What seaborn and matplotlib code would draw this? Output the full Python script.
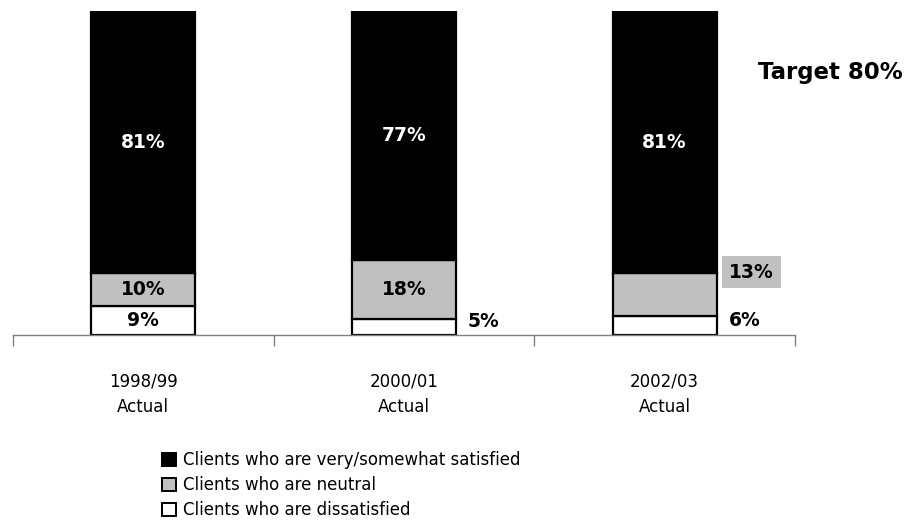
import numpy as np
import pandas as pd
import matplotlib
matplotlib.use("Agg")
import matplotlib.pyplot as plt
from matplotlib.patches import Patch
import seaborn as sns

# Client satisfaction survey results (percent of clients)
categories = ["1998/99\nActual", "2000/01\nActual", "2002/03\nActual"]
dissatisfied = [9, 5, 6]
neutral = [10, 18, 13]
satisfied = [81, 77, 81]
legend_labels = [
    "Clients who are very/somewhat satisfied",
    "Clients who are neutral",
    "Clients who are dissatisfied",
]
target_text = "Target 80%"

sns.set_theme(style="white")
plt.rcParams["font.family"] = ["DejaVu Sans"]
plt.rcParams["text.color"] = "black"
plt.rcParams["xtick.labelcolor"] = "black"

GRAY = "#c0c0c0"
AXIS_GRAY = "#808080"
EDGE_LW = 1.6
BAR_W = 0.4

fig = plt.figure(figsize=(9.12, 5.25), dpi=100)
ax = fig.add_axes([13 / 912, 190 / 525, 782 / 912, 324 / 525])

df = pd.DataFrame({
    "period": categories,
    "dissatisfied": dissatisfied,
    "neutral": neutral,
    "satisfied": satisfied,
})
bottom_neutral = df["dissatisfied"].to_numpy()
bottom_satisfied = (df["dissatisfied"] + df["neutral"]).to_numpy()

common = dict(x="period", width=BAR_W, saturation=1, errorbar=None,
              edgecolor="black", linewidth=EDGE_LW, ax=ax)
sns.barplot(data=df, y="dissatisfied", color="white", **common)
sns.barplot(data=df, y="neutral", bottom=bottom_neutral, color=GRAY, **common)
sns.barplot(data=df, y="satisfied", bottom=bottom_satisfied, color="black", **common)

ax.set_xlim(-0.5, len(categories) - 0.5)
ax.set_ylim(0, 100)
ax.set_xlabel("")
ax.set_ylabel("")
ax.set_yticks([])

for side in ("left", "top", "right"):
    ax.spines[side].set_visible(False)
ax.spines["bottom"].set_color(AXIS_GRAY)
ax.spines["bottom"].set_linewidth(1.0)

# category labels centred, divider ticks between categories
ax.set_xticks(range(len(categories)))
ax.set_xticklabels(categories, fontsize=12, linespacing=1.55, color="black")
ax.tick_params(axis="x", which="major", length=0, pad=27)
ax.set_xticks(np.arange(-0.5, len(categories)), minor=True)
ax.tick_params(axis="x", which="minor", length=8, width=1.0,
               color=AXIS_GRAY, direction="out", bottom=True)

label_kw = dict(fontsize=13.5, fontweight="bold", va="center")
right = BAR_W / 2
for i in range(len(categories)):
    d, n, s = dissatisfied[i], neutral[i], satisfied[i]
    # satisfied share inside the black segment
    ax.text(i, d + n + s / 2, f"{s}%", ha="center", color="white", **label_kw)
    # neutral share
    if n >= 10 and i < 2:
        ax.text(i, d + n / 2, f"{n}%", ha="center", color="black", **label_kw)
    else:
        ax.text(i + right + 0.133, d + n + 0.4, f"{n}%", ha="center", color="black",
                bbox=dict(boxstyle="square,pad=0.36", facecolor=GRAY, edgecolor="none"),
                **label_kw)
    # dissatisfied share
    if d >= 8:
        ax.text(i, d / 2, f"{d}%", ha="center", color="black", **label_kw)
    else:
        ax.text(i + right + 0.045, d / 2 + 1.6, f"{d}%", ha="left", color="black",
                **label_kw)

fig.text(830 / 912, 1 - 73 / 525, target_text, ha="center", va="center",
         fontsize=16.5, fontweight="bold", color="black")

# legend: satisfied, neutral, dissatisfied
handles = [
    Patch(facecolor="black", edgecolor="black", linewidth=1.4),
    Patch(facecolor=GRAY, edgecolor="black", linewidth=1.4),
    Patch(facecolor="white", edgecolor="black", linewidth=1.4),
]
leg = fig.legend(handles, legend_labels, loc="upper left",
                 bbox_to_anchor=(162 / 912, 1 - 451 / 525), frameon=False,
                 fontsize=12, handlelength=0.85, handleheight=0.85,
                 handletextpad=0.4, labelspacing=0.42, borderpad=0, borderaxespad=0)
for t in leg.get_texts():
    t.set_color("black")

fig.savefig("out.png", dpi=100, facecolor="white")
